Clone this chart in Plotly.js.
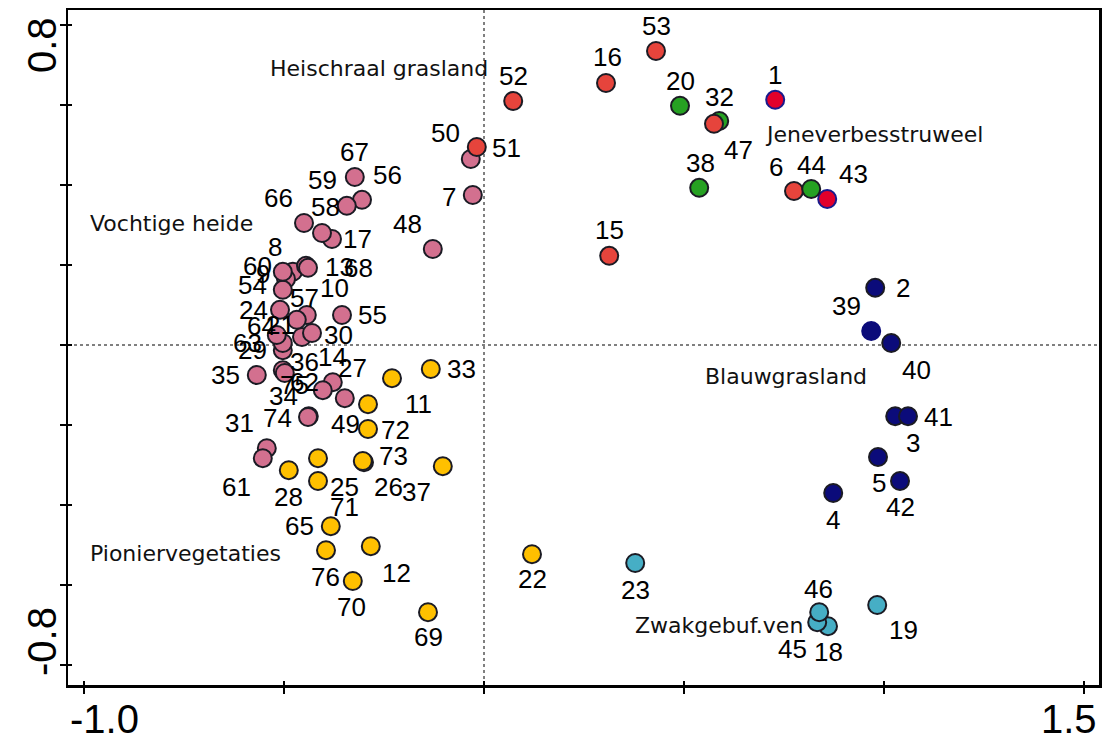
<!DOCTYPE html>
<html><head><meta charset="utf-8">
<script src="https://cdn.plot.ly/plotly-3.0.1.min.js"></script>
<style>html,body{margin:0;padding:0;background:#fff}#chart{width:1104px;height:740px}</style>
</head><body><div id="chart"></div>
<script>
// ---- data (ordination scores, axis 1 / axis 2) ----
// Heischraal grasland (red)
const redIds = [6, 15, 16, 47, 51, 52, 53];
const redX   = [0.775, 0.313, 0.305, 0.575, -0.018, 0.073, 0.430];
const redY   = [0.385, 0.223, 0.655, 0.553, 0.495, 0.610, 0.735];
// red samples with blue rim
const rimIds = [1, 43];
const rimX   = [0.728, 0.858];
const rimY   = [0.613, 0.365];
// Jeneverbesstruweel (green)
const greenIds = [20, 32, 38, 44];
const greenX   = [0.490, 0.588, 0.538, 0.818];
const greenY   = [0.598, 0.560, 0.393, 0.390];
// Blauwgrasland (navy)
const navyIds = [2, 3, 4, 5, 39, 40, 41, 42];
const navyX   = [0.978, 1.028, 0.873, 0.985, 0.968, 1.018, 1.060, 1.040];
const navyY   = [0.143, -0.178, -0.370, -0.280, 0.035, 0.005, -0.178, -0.340];
// Zwakgebufferde vennen (cyan)
const cyanIds = [18, 19, 23, 45, 46];
const cyanX   = [0.860, 0.983, 0.378, 0.833, 0.838];
const cyanY   = [-0.703, -0.650, -0.545, -0.693, -0.668];
// Pioniervegetaties (yellow)
const yellowIds = [11, 12, 22, 25, 26, 28, 33, 37, 49, 65, 69, 70, 71, 72, 73, 76];
const yellowX   = [-0.230, -0.283, 0.120, -0.415, -0.300, -0.488, -0.133, -0.103, -0.290, -0.383, -0.140, -0.328, -0.415, -0.290, -0.303, -0.395];
const yellowY   = [-0.083, -0.503, -0.523, -0.283, -0.293, -0.313, -0.060, -0.303, -0.148, -0.453, -0.668, -0.590, -0.340, -0.210, -0.290, -0.513];
// Vochtige heide (pink)
const pinkIds = [7, 8, 9, 10, 13, 14, 17, 21, 24, 27, 29, 30, 31, 34, 35, 36, 48, 50, 54, 55, 56, 57, 58, 59, 60, 61, 62, 63, 64, 66, 67, 68, 74, 75];
const pinkX   = [-0.028, -0.478, -0.495, -0.443, -0.445, -0.378, -0.380, -0.455, -0.510, -0.348, -0.503, -0.430, -0.543, -0.438, -0.568, -0.503, -0.128, -0.033, -0.503, -0.355, -0.305, -0.468, -0.405, -0.343, -0.503, -0.553, -0.403, -0.503, -0.518, -0.450, -0.323, -0.440, -0.440, -0.498];
const pinkY   = [0.375, 0.183, 0.165, 0.075, 0.198, -0.093, 0.265, 0.020, 0.088, -0.133, -0.013, 0.030, -0.258, -0.178, -0.075, -0.063, 0.240, 0.465, 0.138, 0.075, 0.363, 0.063, 0.280, 0.348, 0.183, -0.283, -0.113, 0.005, 0.025, 0.305, 0.420, 0.193, -0.180, -0.070];

// group names
const groupNames = ["Heischraal grasland", "Jeneverbesstruweel", "Vochtige heide", "Blauwgrasland", "Pioniervegetaties", "Zwakgebuf.ven"];
const groupNameX = [-0.540, 0.6975, -0.990, 0.5475, -0.990, 0.3725];
const groupNameY = [0.6925, 0.5275, 0.305, -0.0775, -0.520, -0.700];

// ---- styling ----
const EDGE = "#1b1b24";
const groups = [
  {ids: redIds, xs: redX, ys: redY, fill: "#E6443C", edge: EDGE},
  {ids: rimIds, xs: rimX, ys: rimY, fill: "#E2002B", edge: "#1a1a8c"},
  {ids: greenIds, xs: greenX, ys: greenY, fill: "#26A122", edge: EDGE},
  {ids: navyIds, xs: navyX, ys: navyY, fill: "#0B0B7A", edge: EDGE},
  {ids: cyanIds, xs: cyanX, ys: cyanY, fill: "#46AEC5", edge: EDGE},
  {ids: yellowIds, xs: yellowX, ys: yellowY, fill: "#FFC000", edge: EDGE},
  {ids: pinkIds, xs: pinkX, ys: pinkY, fill: "#D3708F", edge: EDGE}
];
const noRim = [39];
// label placement relative to the point, in screen pixels [dx, dy(down)]
const labelShift = {
  1:[0,-25], 6:[-18,-24], 15:[0,-26], 16:[1,-26], 20:[0,-25], 32:[0,-24], 38:[1,-25], 43:[26,-25],
  44:[0,-24], 47:[24,26], 51:[30,1], 52:[0,-25], 53:[0,-25],
  2:[28,0], 3:[18,27], 4:[0,27], 5:[1,26], 39:[-25,-25], 40:[25,27], 41:[30,1], 42:[0,26],
  18:[0,26], 19:[26,25], 23:[0,27], 45:[-25,27], 46:[-1,-23],
  11:[26,26], 12:[26,27], 22:[0,25], 25:[26,29], 26:[24,25], 28:[0,27], 33:[31,0], 37:[-26,26],
  49:[-23,20], 65:[-31,0], 69:[0,25], 70:[-1,26], 71:[26,26], 72:[27,1], 73:[31,-5], 76:[-1,27],
  7:[-24,2], 8:[-18,-25], 9:[-23,-5], 10:[28,-27], 13:[33,1], 14:[0,-25], 17:[25,0], 21:[-22,-12],
  24:[-27,0], 27:[8,-30], 29:[-30,0], 30:[26,2], 31:[-27,-25], 34:[-25,-20], 35:[-31,0], 36:[22,-8],
  48:[-25,-25], 50:[-25,-26], 54:[-30,-5], 55:[30,0], 56:[25,-25], 57:[8,-22], 58:[3,-26], 59:[-24,-26],
  60:[-25,-6], 61:[-26,29], 62:[-18,-8], 63:[-35,0], 64:[-15,-9], 66:[-26,-25], 67:[0,-25], 68:[50,0],
  74:[-31,1], 75:[10,12]
};

// ---- build one table sorted by sample number (draw order) ----
const rows = [];
groups.forEach(g => g.ids.forEach((id, i) => rows.push({
  id: id, x: g.xs[i], y: g.ys[i], fill: g.fill,
  edge: noRim.includes(id) ? g.fill : g.edge
})));
rows.sort((a, b) => a.id - b.id);

const trace = {
  type: "scatter", mode: "markers",
  x: rows.map(r => r.x), y: rows.map(r => r.y),
  text: rows.map(r => String(r.id)), hoverinfo: "text",
  marker: {size: 18, color: rows.map(r => r.fill),
           line: {width: 2, color: rows.map(r => r.edge)}},
  showlegend: false, cliponaxis: false
};

const NUMFONT = {family: "Liberation Sans, Arial, sans-serif", size: 26, color: "#000"};
const annotations = rows.map(r => {
  const s = labelShift[r.id] || [0, -25];
  return {x: r.x, y: r.y, xref: "x", yref: "y", text: String(r.id), showarrow: false,
          xanchor: "center", yanchor: "middle", xshift: s[0], yshift: -s[1], font: NUMFONT};
});
groupNames.forEach((t, i) => annotations.push({
  x: groupNameX[i], y: groupNameY[i], xref: "x", yref: "y", text: t, showarrow: false,
  xanchor: "left", yanchor: "middle",
  font: {family: "DejaVu Sans, Verdana, sans-serif", size: 22, color: "#111"}
}));
// axis end labels
const TICKFONT = {family: "Liberation Sans, Arial, sans-serif", size: 40, color: "#000"};
const xEnds = [-1.0, 1.5], xEndShift = [20, -15];
xEnds.forEach((v, i) => annotations.push({
  x: v, y: 0, xref: "x", yref: "paper", text: v.toFixed(1), showarrow: false,
  xanchor: "center", yanchor: "middle", xshift: xEndShift[i], yshift: -34, font: TICKFONT
}));
const yEnds = [0.8, -0.8], yEndShift = [-20, 23];
yEnds.forEach((v, i) => annotations.push({
  x: 0, y: v, xref: "paper", yref: "y", text: v.toFixed(1), showarrow: false, textangle: -90,
  xanchor: "center", yanchor: "middle", xshift: -26, yshift: yEndShift[i], font: TICKFONT
}));

const xr = [-1.04, 1.5375], yr = [-0.85, 0.8375];
const xt = [-1.0, -0.5, 0, 0.5, 1.0, 1.5];
const yt = [-0.8, -0.6, -0.4, -0.2, 0, 0.2, 0.4, 0.6, 0.8];
const axBase = {showgrid: false, zeroline: false, showticklabels: false, fixedrange: true};

const layout = {
  width: 1104, height: 740,
  margin: {l: 68, r: 5, t: 10, b: 55},
  paper_bgcolor: "#fff", plot_bgcolor: "#fff",
  xaxis: Object.assign({}, axBase, {range: xr, tickvals: xt, ticks: "outside", ticklen: 6, tickwidth: 1.5,
         tickcolor: "#000", showline: true, linewidth: 2.5, linecolor: "#000", mirror: true}),
  yaxis: Object.assign({}, axBase, {range: yr, tickvals: yt, ticks: "outside", ticklen: 6, tickwidth: 1.5,
         tickcolor: "#000", showline: true, linewidth: 2.5, linecolor: "#000", mirror: true}),
  xaxis2: Object.assign({}, axBase, {range: xr, tickvals: xt, ticks: "inside", ticklen: 4, tickwidth: 1.5,
         tickcolor: "#000", overlaying: "x", anchor: "y"}),
  yaxis2: Object.assign({}, axBase, {range: yr, tickvals: yt, ticks: "inside", ticklen: 4, tickwidth: 1.5,
         tickcolor: "#000", overlaying: "y", anchor: "x"}),
  shapes: [
    {type: "line", xref: "x", yref: "paper", x0: 0, x1: 0, y0: 0, y1: 1, layer: "below",
     line: {color: "#000", width: 1, dash: "dot"}},
    {type: "line", xref: "paper", yref: "y", x0: 0, x1: 1, y0: 0, y1: 0, layer: "below",
     line: {color: "#000", width: 1, dash: "dot"}}
  ],
  annotations: annotations
};

const dummy = {type: "scatter", mode: "markers", x: [], y: [], xaxis: "x2", yaxis: "y2",
               showlegend: false, hoverinfo: "skip"};
Plotly.newPlot("chart", [trace, dummy], layout, {displayModeBar: false, staticPlot: true});
</script>
</body></html>
